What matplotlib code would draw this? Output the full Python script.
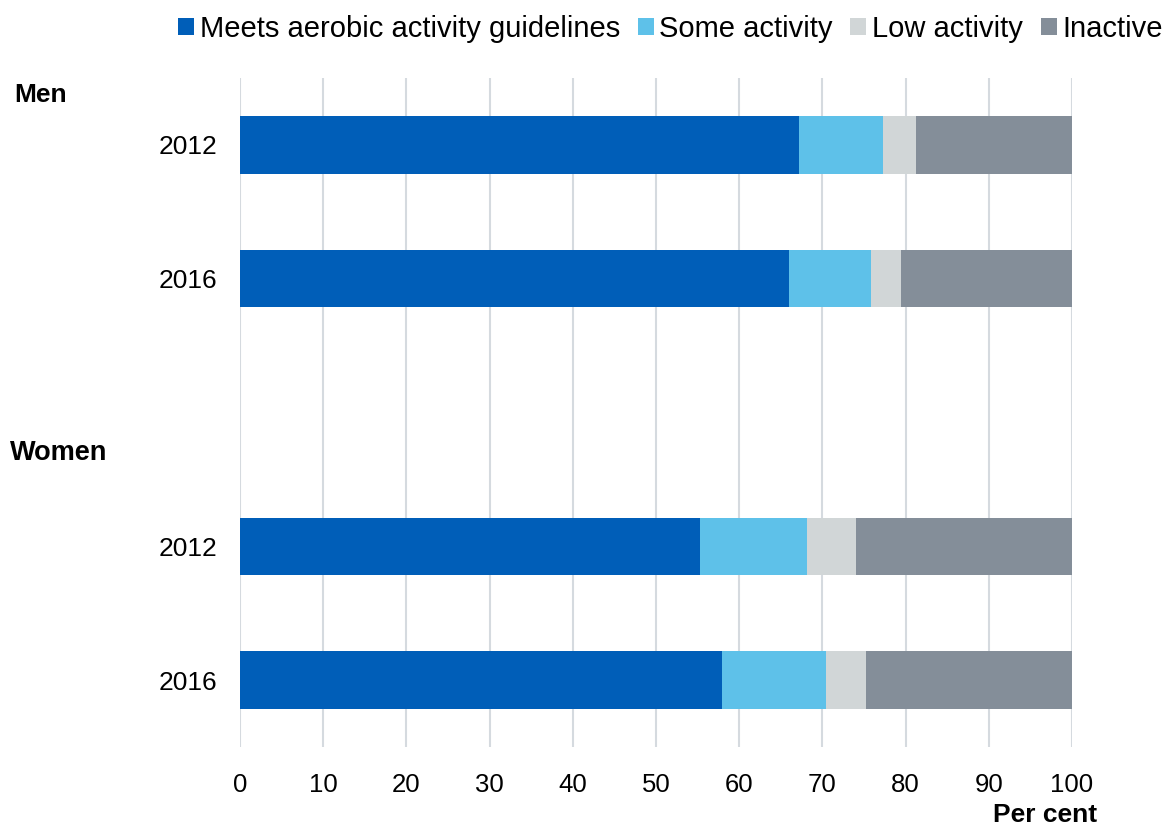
import matplotlib
matplotlib.use("Agg")
import matplotlib.pyplot as plt
import numpy as np

plt.rcParams['font.family'] = ['Liberation Sans', 'DejaVu Sans']

# data (per cent)
years = ['2012', '2016', '', '2012', '2016']
groups = ['Men', 'Women']
series = ['Meets aerobic activity guidelines', 'Some activity', 'Low activity', 'Inactive']
meets = [67.2, 66.0, 0, 55.3, 57.9]
some = [10.1, 9.9, 0, 12.9, 12.5]
low = [3.9, 3.6, 0, 5.8, 4.8]
inactive = [18.8, 20.5, 0, 26.0, 24.8]
colors = ['#005EB8', '#5EC1E9', '#D1D6D7', '#848E99']

fig = plt.figure(figsize=(11.67, 8.27), dpi=100)
ax = fig.add_axes([240 / 1167, 1 - 747 / 827, 832 / 1167, 669 / 827])

y = np.arange(len(years))
left = np.zeros(len(years))
for name, vals, c in zip(series, [meets, some, low, inactive], colors):
    vals = np.array(vals)
    ax.barh(y, vals, left=left, height=0.43, color=c, label=name, zorder=3)
    left += vals

ax.set_ylim(4.5, -0.5)
ax.set_xlim(0, 100)
ax.set_xticks(np.arange(0, 101, 10))
ax.set_yticks([0, 1, 3, 4])
ax.set_yticklabels([years[i] for i in [0, 1, 3, 4]])
ax.tick_params(axis='y', length=0, pad=16.5, labelsize=19)
ax.tick_params(axis='x', length=0, pad=19, labelsize=18.5)
ax.grid(axis='x', color='#D5DADF', linewidth=1.5, zorder=0)
for s in ax.spines.values():
    s.set_visible(False)

fig.text(14 / 1167, 1 - 95 / 827, groups[0], fontsize=19, fontweight='bold', va='center', ha='left')
fig.text(10 / 1167, 1 - 453 / 827, groups[1], fontsize=19.5, fontweight='bold', va='center', ha='left')
fig.text(1097 / 1167, 1 - 815 / 827, 'Per cent', fontsize=19, fontweight='bold', va='center', ha='right')

fig.legend(loc='center right', bbox_to_anchor=(1163 / 1167, 1 - 29 / 827), ncol=4, frameon=False,
           fontsize=21, handlelength=0.55, handleheight=0.55, handletextpad=0.2, columnspacing=0.6,
           borderaxespad=0, borderpad=0)

fig.savefig('out.png', dpi=100)
